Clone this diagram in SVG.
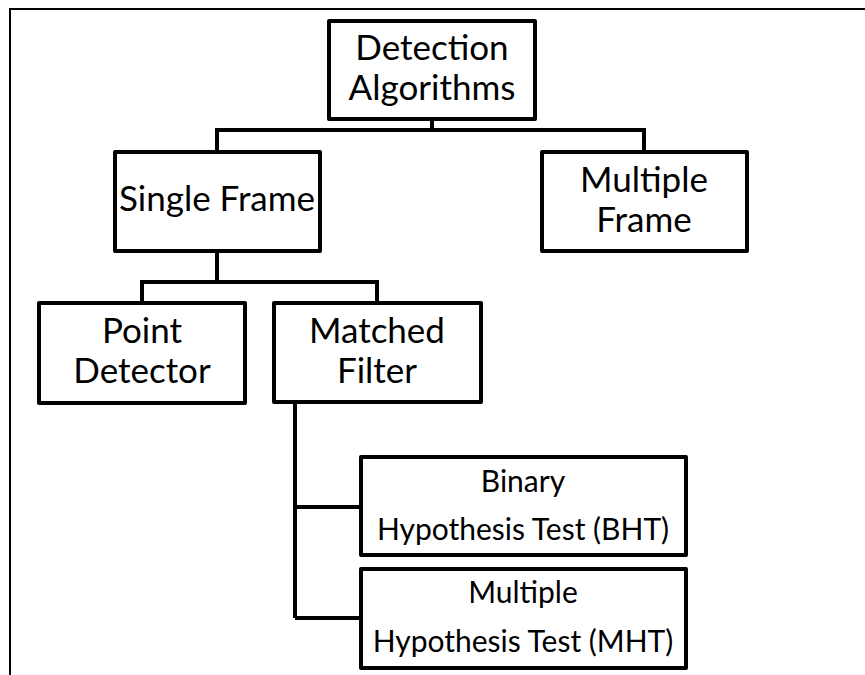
<svg xmlns="http://www.w3.org/2000/svg" width="865" height="675" viewBox="0 0 865 675">
<style>
.box{fill:#fff;stroke:#000;stroke-width:4;stroke-linejoin:round}
.ln{fill:none;stroke:#000;stroke-width:4;stroke-linejoin:miter}
.t{font-family:Lato,"Open Sans","Liberation Sans",sans-serif;font-size:35px;fill:#000;text-anchor:middle}
.s{font-size:30px}
</style>
<rect width="865" height="675" fill="#fff"/>
<g id="frame">
<path d="M10 675 V9 H865" fill="none" stroke="#000" stroke-width="2"/>
</g>
<g id="connectors">
<path class="ln" d="M432 119 V130 M217 152 V130 H644 V152"/>
<path class="ln" d="M217 251 V282 M142 303 V282 H377 V303"/>
<path class="ln" d="M295 402 V618 M295 507 H361 M295 618 H361"/>
</g>
<g id="n-detection">
<rect class="box" x="329" y="21" width="206" height="98"/>
<text class="t" x="432" y="60">Detection</text>
<text class="t" x="432" y="100">Algorithms</text>
</g>
<g id="n-single">
<rect class="box" x="115" y="152" width="205" height="99"/>
<text class="t" x="217" y="211">Single Frame</text>
</g>
<g id="n-multiple">
<rect class="box" x="542" y="152" width="205" height="99"/>
<text class="t" x="644" y="192">Multiple</text>
<text class="t" x="644" y="232">Frame</text>
</g>
<g id="n-point">
<rect class="box" x="39" y="303" width="206" height="100"/>
<text class="t" x="142" y="343">Point</text>
<text class="t" x="142" y="383">Detector</text>
</g>
<g id="n-matched">
<rect class="box" x="274" y="303" width="207" height="99"/>
<text class="t" x="377" y="343">Matched</text>
<text class="t" x="377" y="383">Filter</text>
</g>
<g id="n-bht">
<rect class="box" x="361" y="457" width="325" height="98"/>
<text class="t s" x="523" y="492">Binary</text>
<text class="t s" x="523" y="540">Hypothesis Test (BHT)</text>
</g>
<g id="n-mht">
<rect class="box" x="361" y="569" width="325" height="99"/>
<text class="t s" x="523" y="603">Multiple</text>
<text class="t s" x="523" y="652">Hypothesis Test (MHT)</text>
</g>
</svg>
